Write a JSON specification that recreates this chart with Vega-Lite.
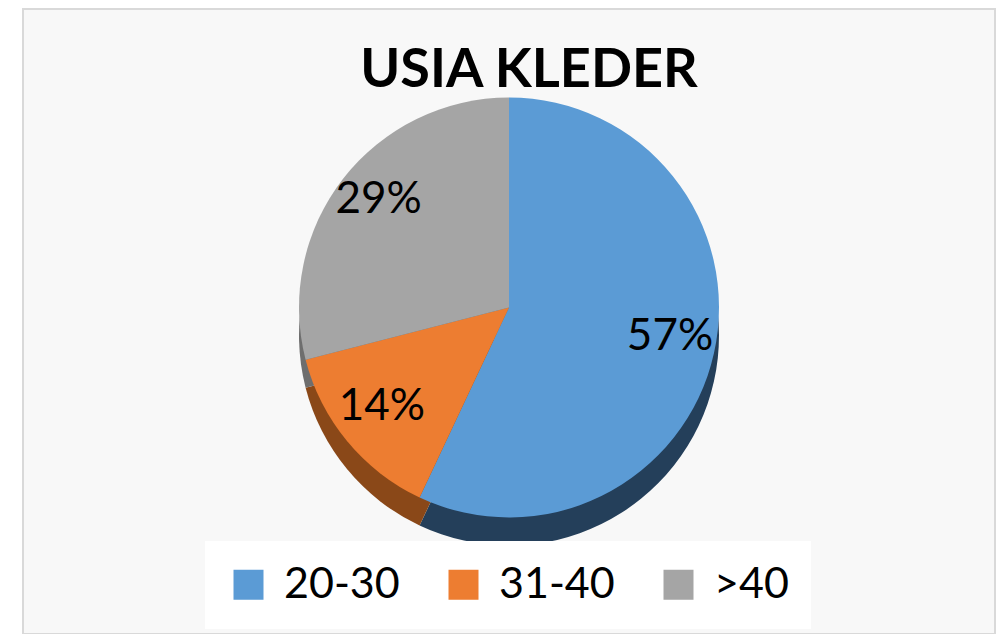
{
  "$schema": "https://vega.github.io/schema/vega-lite/v6.json",
  "width": 972,
  "height": 625,
  "autosize": {"type": "none"},
  "padding": {"left": 23, "top": 9, "right": 10, "bottom": 0},
  "background": "white",
  "config": {
    "view": {"stroke": null},
    "font": "Lato"
  },
  "title": {
    "text": "USIA KLEDER",
    "font": "Lato",
    "fontSize": 54,
    "fontWeight": "bold",
    "color": "#000000",
    "anchor": "middle",
    "offset": -90,
    "dx": 20
  },
  "data": {
    "values": [
      {"age": "20-30", "value": 57, "label": "57%", "rank": 1},
      {"age": "31-40", "value": 14, "label": "14%", "rank": 2},
      {"age": ">40", "value": 29, "label": "29%", "rank": 3}
    ]
  },
  "layer": [
    {
      "data": {"values": [{"frame": "bg"}]},
      "mark": {"type": "rect", "fill": "#f8f8f8", "stroke": "#d9d9d9", "strokeWidth": 2},
      "encoding": {}
    },
    {
      "mark": {"type": "arc", "radius": 210, "yOffset": 14},
      "encoding": {
        "theta": {"field": "value", "type": "quantitative", "stack": true},
        "order": {"field": "rank", "type": "quantitative"},
        "fill": {
          "field": "age",
          "type": "nominal",
          "scale": {"domain": ["20-30", "31-40", ">40"], "range": ["#243f5a", "#8a4818", "#6e6e6e"]},
          "legend": null
        }
      }
    },
    {
      "mark": {"type": "arc", "radius": 210, "yOffset": -14},
      "encoding": {
        "theta": {"field": "value", "type": "quantitative", "stack": true},
        "order": {"field": "rank", "type": "quantitative"},
        "color": {
          "field": "age",
          "type": "nominal",
          "scale": {"domain": ["20-30", "31-40", ">40"], "range": ["#5b9bd5", "#ed7d31", "#a5a5a5"]},
          "legend": {
            "title": null,
            "orient": "none",
            "direction": "horizontal",
            "legendX": 182,
            "legendY": 532,
            "fillColor": "white",
            "padding": 22,
            "symbolType": "square",
            "symbolSize": 900,
            "symbolStrokeWidth": 0,
            "labelFontSize": 43,
            "labelFont": "Lato",
            "labelColor": "#000000",
            "labelOffset": 14,
            "columnPadding": 42
          }
        }
      }
    },
    {
      "mark": {"type": "text", "radius": 165, "yOffset": -20, "fontSize": 44, "font": "Lato", "color": "#000000"},
      "encoding": {
        "theta": {"field": "value", "type": "quantitative", "stack": true},
        "order": {"field": "rank", "type": "quantitative"},
        "text": {"field": "label"}
      }
    }
  ],
  "resolve": {"scale": {"fill": "independent", "color": "independent"}}
}
